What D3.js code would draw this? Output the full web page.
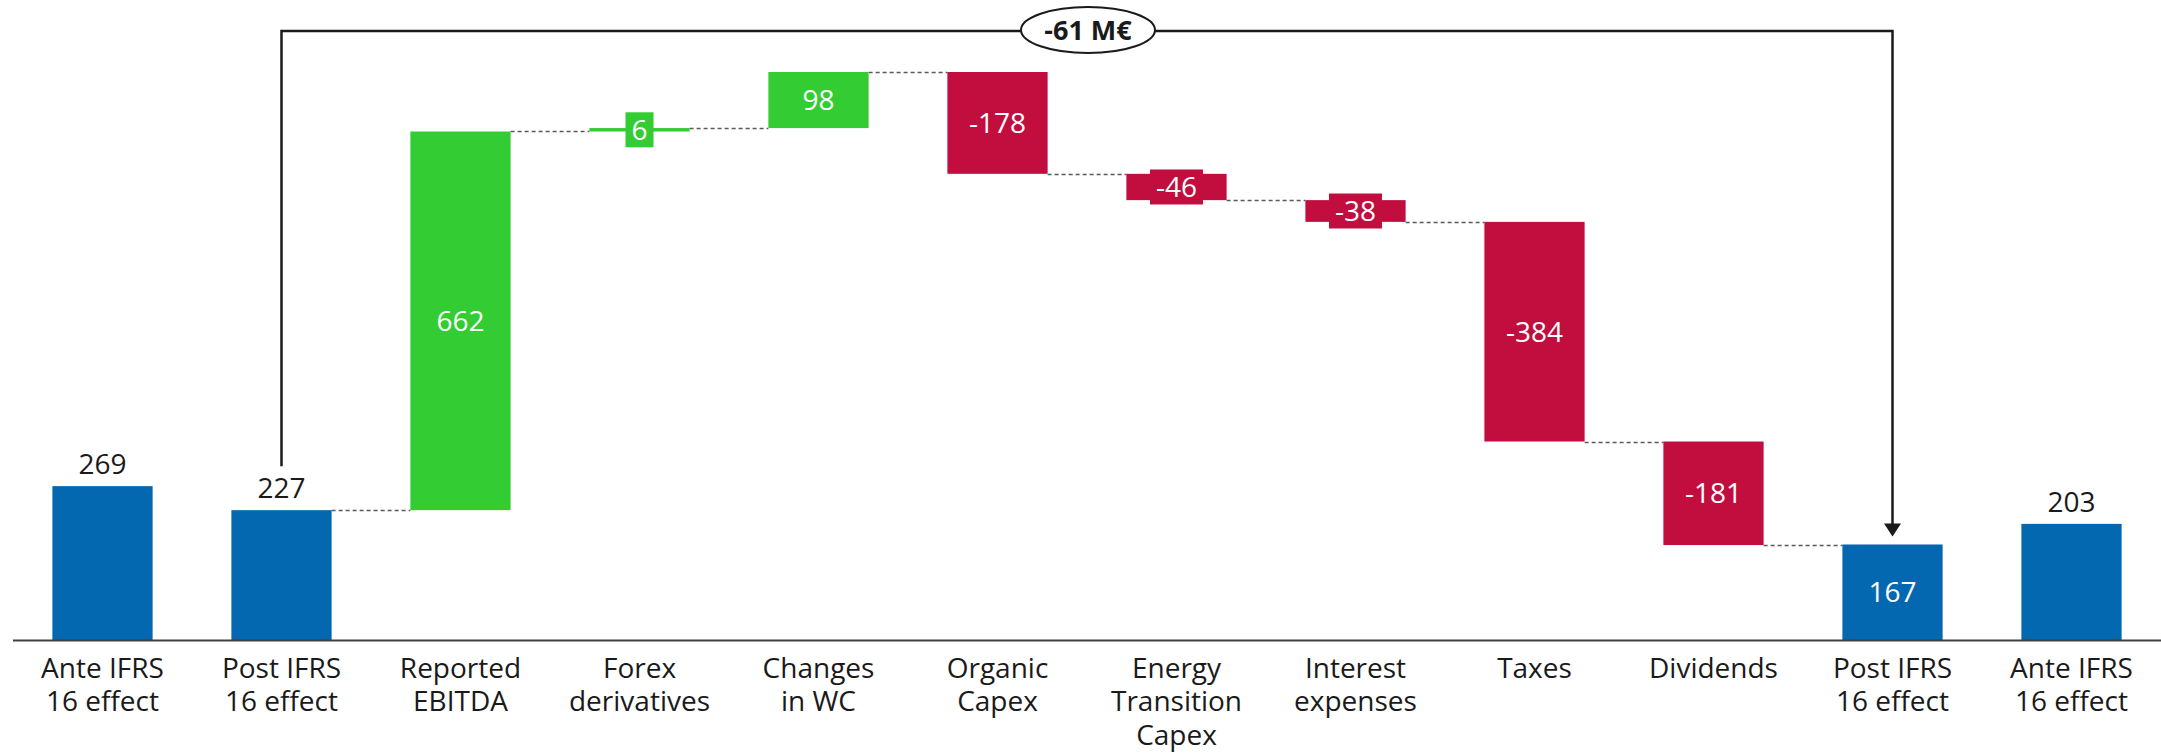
<!DOCTYPE html>
<html>
<head>
<meta charset="utf-8">
<script src="https://cdn.jsdelivr.net/npm/d3@7"></script>
<style>
  html, body { margin: 0; padding: 0; background: #fff; }
  svg { display: block; font-family: "Open Sans", "Noto Sans", sans-serif; }
</style>
</head>
<body>
<svg id="chart" width="2161" height="754"></svg>
<script>
// Cash-flow bridge (M€)
const categories = [
  ["Ante IFRS", "16 effect"],
  ["Post IFRS", "16 effect"],
  ["Reported", "EBITDA"],
  ["Forex", "derivatives"],
  ["Changes", "in WC"],
  ["Organic", "Capex"],
  ["Energy", "Transition", "Capex"],
  ["Interest", "expenses"],
  ["Taxes"],
  ["Dividends"],
  ["Post IFRS", "16 effect"],
  ["Ante IFRS", "16 effect"]
];
// "total" bars stand on zero, "delta" bars float on the running total
const kinds  = ["total", "total", "delta", "delta", "delta", "delta", "delta", "delta", "delta", "delta", "total", "total"];
const values = [269, 227, 662, 6, 98, -178, -46, -38, -384, -181, 167, 203];
const bridgeNote = "-61 M€";

const colors = { total: "#0468B1", up: "#33CC33", down: "#C20E3E" };

const svg = d3.select("#chart");
const W = 2161;

const x = d3.scaleBand()
  .domain(d3.range(categories.length))
  .range([13, W])
  .paddingInner(0.44)
  .paddingOuter(0.22);

const y = d3.scaleLinear().domain([0, 1000]).range([640, 68]);

// Build the bar extents from the running total
let running = 0;
const bars = values.map((v, i) => {
  let start, end;
  if (kinds[i] === "total") {
    start = 0; end = v;
    // the bridge starts from the post-IFRS total
    if (i === 1) running = v;
  } else {
    start = running; end = running + v; running = end;
  }
  const lo = Math.min(start, end), hi = Math.max(start, end);
  const color = kinds[i] === "total" ? colors.total : (v >= 0 ? colors.up : colors.down);
  return { i, v, kind: kinds[i], start, end, lo, hi, color };
});

// Dashed connectors between consecutive bridge steps
const links = [];
for (let i = 1; i < bars.length - 2; i++) {
  links.push({ from: i, to: i + 1, level: bars[i].end });
}
svg.append("g").selectAll("line").data(links).join("line")
  .attr("x1", d => x(d.from) + x.bandwidth())
  .attr("x2", d => x(d.to))
  .attr("y1", d => Math.round(y(d.level)) + 0.5)
  .attr("y2", d => Math.round(y(d.level)) + 0.5)
  .attr("stroke", "#5a5a5a")
  .attr("stroke-width", 1.5)
  .attr("stroke-dasharray", "4,3");

// Bars
svg.append("g").selectAll("rect").data(bars).join("rect")
  .attr("x", d => x(d.i))
  .attr("width", x.bandwidth())
  .attr("y", d => y(d.hi))
  .attr("height", d => Math.max(3, y(d.lo) - y(d.hi)))
  .attr("fill", d => d.color);

// Baseline
svg.append("line")
  .attr("x1", 13).attr("x2", W)
  .attr("y1", y(0) + 0.5).attr("y2", y(0) + 0.5)
  .attr("stroke", "#404040").attr("stroke-width", 2);

// Value labels: above the starting / ending totals, inside the other bars
const fs = 28;
const outside = d => d.kind === "total" && d.i !== 10;
const lab = svg.append("g");
bars.forEach(d => {
  const cx = x(d.i) + x.bandwidth() / 2;
  const txt = String(d.v);
  if (outside(d)) {
    lab.append("text")
      .attr("x", cx).attr("y", y(d.hi) - 12)
      .attr("text-anchor", "middle")
      .attr("font-size", fs).attr("fill", "#1a1a1a")
      .text(txt);
  } else {
    const cy = (y(d.lo) + y(d.hi)) / 2;
    const t = lab.append("text")
      .attr("x", cx).attr("y", cy)
      .attr("dy", "0.36em")
      .attr("text-anchor", "middle")
      .attr("font-size", fs).attr("fill", "#fff")
      .text(txt);
    const w = t.node().getComputedTextLength();
    lab.insert("rect", () => t.node())
      .attr("x", cx - w / 2 - 6).attr("width", w + 12)
      .attr("y", cy - 17.5).attr("height", 35)
      .attr("fill", d.color);
  }
});

// Category labels
svg.append("g").selectAll("text").data(categories).join("text")
  .attr("x", (d, i) => x(i) + x.bandwidth() / 2)
  .attr("y", 678)
  .attr("text-anchor", "middle")
  .attr("font-size", fs).attr("fill", "#1a1a1a")
  .each(function(lines) {
    d3.select(this).selectAll("tspan").data(lines).join("tspan")
      .attr("x", d3.select(this).attr("x"))
      .attr("dy", (l, k) => k === 0 ? 0 : 33.4)
      .text(l => l);
  });

// Bracket from the first post-IFRS total to the final post-IFRS total
const bx1 = x(1) + x.bandwidth() / 2;
const bx2 = x(10) + x.bandwidth() / 2;
const by = 31;
svg.append("path")
  .attr("d", `M${bx1},${y(values[1]) - 44} V${by} H${bx2} V${y(values[10]) - 20}`)
  .attr("fill", "none").attr("stroke", "#1a1a1a").attr("stroke-width", 2.5);
const tipY = y(values[10]) - 8;
svg.append("path")
  .attr("d", `M${bx2 - 8.5},${tipY - 13} L${bx2 + 8.5},${tipY - 13} L${bx2},${tipY} Z`)
  .attr("fill", "#1a1a1a");

const ex = 1088;
svg.append("ellipse")
  .attr("cx", ex).attr("cy", 30).attr("rx", 67).attr("ry", 23)
  .attr("fill", "#fff").attr("stroke", "#1a1a1a").attr("stroke-width", 2);
svg.append("text")
  .attr("x", ex).attr("y", 30).attr("dy", "0.36em")
  .attr("text-anchor", "middle")
  .attr("font-size", 27).attr("font-weight", "bold").attr("fill", "#1a1a1a")
  .text(bridgeNote);
</script>
</body>
</html>
